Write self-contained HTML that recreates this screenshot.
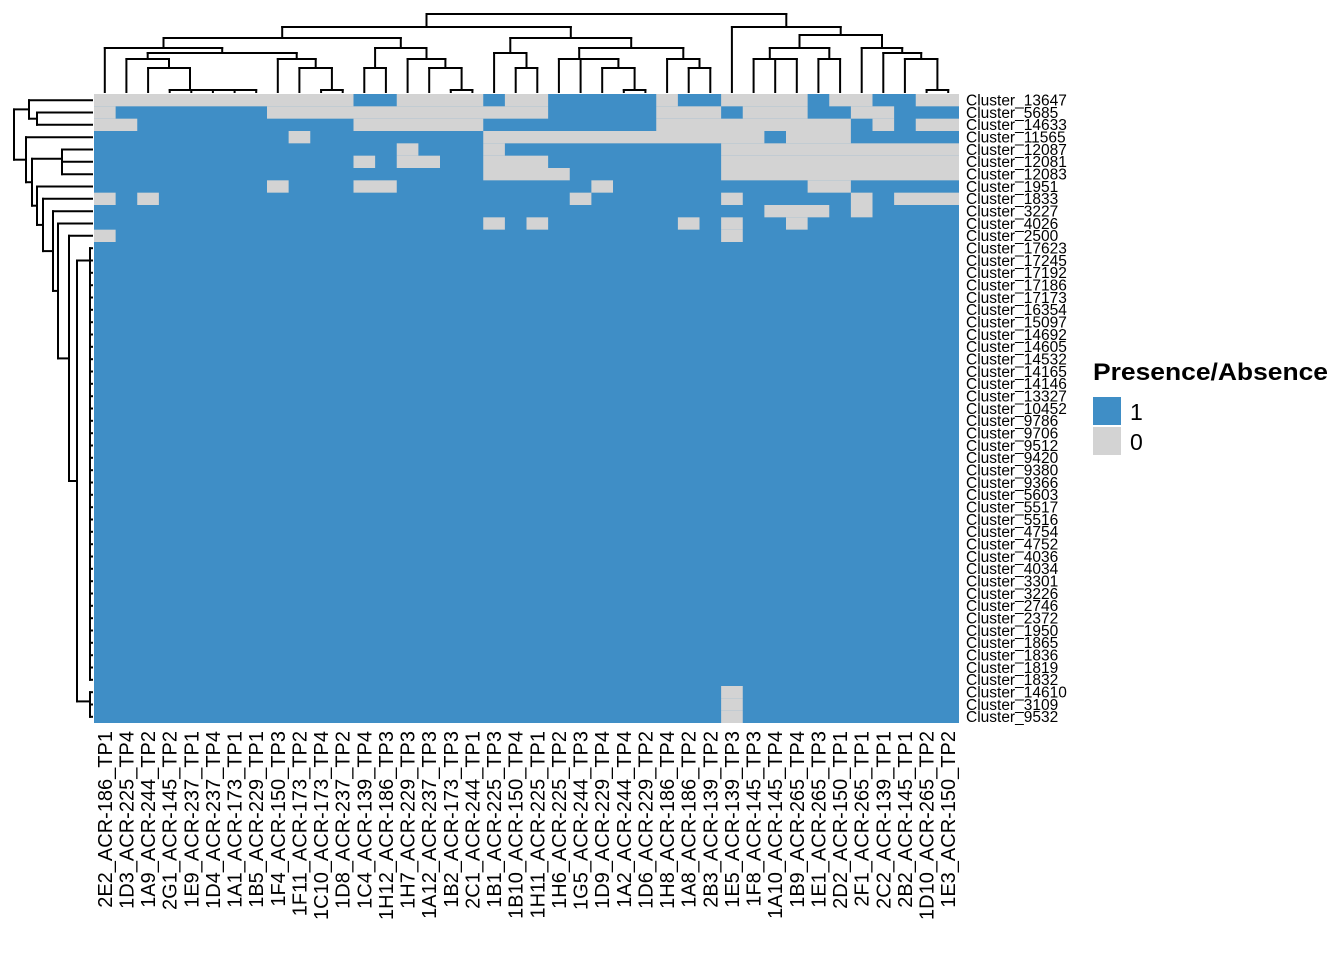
<!DOCTYPE html>
<html><head><meta charset="utf-8">
<style>
html,body{margin:0;padding:0;background:#fff;}
svg{display:block;}
</style></head>
<body>
<svg id="s" width="1344" height="960" xmlns="http://www.w3.org/2000/svg" font-family="Liberation Sans, sans-serif"></svg>
<script>
(function(){
var s=document.getElementById('s');
var out='';
var x0=94,cw=21.625,y0=94,rh=629/51;
out+='<rect x="'+x0+'" y="'+y0+'" width="865" height="629" fill="#3f8ec6"/>';
var grey={0:[[0,11],[14,17],[19,20],[26,26],[29,32],[34,35],[38,39]],
1:[[0,0],[8,20],[26,28],[30,32],[35,36]],
2:[[0,1],[12,17],[26,34],[36,36],[38,39]],
3:[[9,9],[18,30],[32,34]],
4:[[14,14],[18,18],[29,39]],
5:[[12,12],[14,15],[18,20],[29,39]],
6:[[18,21],[29,39]],
7:[[8,8],[12,13],[23,23],[33,34]],
8:[[0,0],[2,2],[22,22],[29,29],[35,35],[37,39]],
9:[[31,33],[35,35]],
10:[[18,18],[20,20],[27,27],[29,29],[32,32]],
11:[[0,0],[29,29]],
48:[[29,29]],49:[[29,29]],50:[[29,29]]};
for(var r in grey){grey[r].forEach(function(g){
 out+='<rect x="'+(x0+cw*g[0]).toFixed(2)+'" y="'+(y0+rh*r).toFixed(2)+'" width="'+(cw*(g[1]-g[0]+1)).toFixed(2)+'" height="'+rh.toFixed(2)+'" fill="#d3d3d3"/>';
});}
function N(h,a,b){return {h:h,a:a,b:b};}
function seq(a,b,h){if(a==b)return a;return N(h,a,seq(a+1,b,h));}
var lines='';
function L(a,b,c,d){lines+='<line x1="'+a.toFixed(1)+'" y1="'+b.toFixed(1)+'" x2="'+c.toFixed(1)+'" y2="'+d.toFixed(1)+'"/>';}
function drawTop(n){
 if(typeof n=='number')return {p:x0+cw*(n+.5),h:92};
 var a=drawTop(n.a),b=drawTop(n.b);
 L(a.p,a.h,a.p,n.h);L(b.p,b.h,b.p,n.h);L(a.p,n.h,b.p,n.h);
 return {p:(a.p+b.p)/2,h:n.h};
}
function drawLeft(n){
 if(typeof n=='number')return {p:y0+rh*(n+.5),h:92};
 var a=drawLeft(n.a),b=drawLeft(n.b);
 L(a.h,a.p,n.h,a.p);L(b.h,b.p,n.h,b.p);L(n.h,a.p,n.h,b.p);
 return {p:(a.p+b.p)/2,h:n.h};
}
var C=N(59,1,N(68,2,seq(3,7,90)));
var D=N(59,8,N(68,9,N(90,10,11)));
var A=N(48,0,N(53,C,D));
var R1=N(48,N(68,12,13),N(59,14,N(68,15,N(90,16,17))));
var RR=N(38,N(53,18,N(68,19,20)),N(48,N(59,21,N(59,22,N(68,23,N(90,24,25)))),N(59,26,N(68,27,28))));
var LM=N(27,N(38,A,R1),RR);
var RM=N(27,29,N(35,N(48,N(59,30,N(59,31,32)),N(59,33,34)),N(48,35,N(53,36,N(59,37,N(90,38,39))))));
drawTop(N(14,LM,RM));
var topT=N(29,0,N(37,1,2));
var botT=N(26,3,N(32,N(62,4,N(62,5,6)),N(37,7,N(43,8,N(53,9,N(58,10,N(69,11,N(77,seq(12,47,90),seq(48,50,90)))))))));
drawLeft(N(14,topT,botT));
out+='<g stroke="#000" stroke-width="2" stroke-linecap="square">'+lines+'</g>';
var rows=["13647","5685","14633","11565","12087","12081","12083","1951","1833","3227","4026","2500","17623","17245","17192","17186","17173","16354","15097","14692","14605","14532","14165","14146","13327","10452","9786","9706","9512","9420","9380","9366","5603","5517","5516","4754","4752","4036","4034","3301","3226","2746","2372","1950","1865","1836","1819","1832","14610","3109","9532"];
rows.forEach(function(r,i){
 out+='<text x="966" y="'+(y0+rh*(i+.5)+5.3).toFixed(1)+'" font-size="15.5">Cluster_'+r+'</text>';
});
var cols=["2E2_ACR-186_TP1","1D3_ACR-225_TP4","1A9_ACR-244_TP2","2G1_ACR-145_TP2","1E9_ACR-237_TP1","1D4_ACR-237_TP4","1A1_ACR-173_TP1","1B5_ACR-229_TP1","1F4_ACR-150_TP3","1F11_ACR-173_TP2","1C10_ACR-173_TP4","1D8_ACR-237_TP2","1C4_ACR-139_TP4","1H12_ACR-186_TP3","1H7_ACR-229_TP3","1A12_ACR-237_TP3","1B2_ACR-173_TP3","2C1_ACR-244_TP1","1B1_ACR-225_TP3","1B10_ACR-150_TP4","1H11_ACR-225_TP1","1H6_ACR-225_TP2","1G5_ACR-244_TP3","1D9_ACR-229_TP4","1A2_ACR-244_TP4","1D6_ACR-229_TP2","1H8_ACR-186_TP4","1A8_ACR-186_TP2","2B3_ACR-139_TP2","1E5_ACR-139_TP3","1F8_ACR-145_TP3","1A10_ACR-145_TP4","1B9_ACR-265_TP4","1E1_ACR-265_TP3","2D2_ACR-150_TP1","2F1_ACR-265_TP1","2C2_ACR-139_TP1","2B2_ACR-145_TP1","1D10_ACR-265_TP2","1E3_ACR-150_TP2"];
cols.forEach(function(c,i){
 var x=x0+cw*(i+.5)+7;
 out+='<text transform="translate('+x.toFixed(1)+',731) rotate(-90)" font-size="20" text-anchor="end">'+c+'</text>';
});
out+='<text x="1093" y="380" font-size="24" font-weight="bold" textLength="235" lengthAdjust="spacingAndGlyphs">Presence/Absence</text>';
out+='<rect x="1093" y="397" width="28" height="28" fill="#3f8ec6"/>';
out+='<rect x="1093" y="427" width="28" height="28" fill="#d3d3d3"/>';
out+='<text x="1130" y="420" font-size="23">1</text>';
out+='<text x="1130" y="450" font-size="23">0</text>';
s.innerHTML=out;
})();
</script>
</body></html>
